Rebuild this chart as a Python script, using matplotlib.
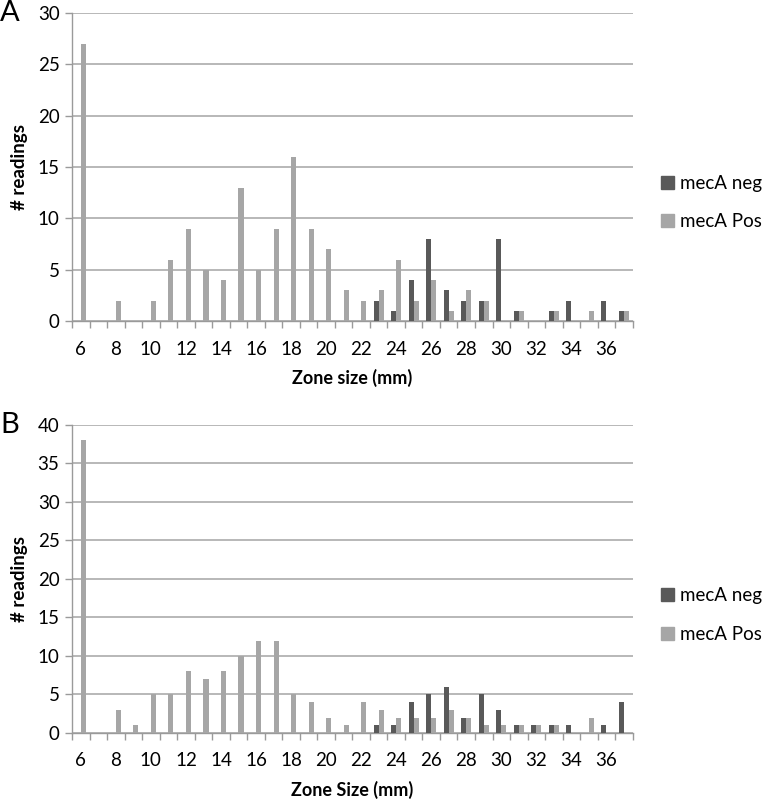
import numpy as np
import matplotlib.pyplot as plt
from matplotlib.patches import Patch

plt.rcParams['font.family'] = ['Lato', 'DejaVu Sans']

zones = list(range(6, 38))
tick_labels = [str(z) for z in range(6, 37, 2)]

# panel A
a_neg = [0, 0, 0, 0, 0, 0, 0, 0, 0, 0, 0, 0, 0, 0, 0, 0, 0,
         2, 1, 4, 8, 3, 2, 2, 8, 1, 0, 1, 2, 0, 2, 1]
a_pos = [27, 0, 2, 0, 2, 6, 9, 5, 4, 13, 5, 9, 16, 9, 7, 3, 2,
         3, 6, 2, 4, 1, 3, 2, 0, 1, 0, 1, 0, 1, 0, 1]

# panel B
b_neg = [0, 0, 0, 0, 0, 0, 0, 0, 0, 0, 0, 0, 0, 0, 0, 0, 0,
         1, 1, 4, 5, 6, 2, 5, 3, 1, 1, 1, 1, 0, 1, 4]
b_pos = [38, 0, 3, 1, 5, 5, 8, 7, 8, 10, 12, 12, 5, 4, 2, 1, 4,
         3, 2, 2, 2, 3, 2, 1, 1, 1, 1, 1, 0, 2, 0, 0]

dark = '#595959'
light = '#a6a6a6'
axis_col = '#9a9a9a'

fig = plt.figure(figsize=(7.66, 8.01), dpi=100)

def panel(rect, neg, pos, ymax, xlabel, letter, leg_y):
    ax = fig.add_axes(rect)
    x = np.array(zones)
    w = 0.29
    ax.bar(x - w / 2, neg, width=w, color=dark, zorder=3)
    ax.bar(x + w / 2, pos, width=w, color=light, zorder=3)
    ax.set_xlim(5.5, 37.5)
    ax.set_ylim(0, ymax)
    ax.set_yticks(range(0, ymax + 1, 5))
    ax.set_xticks(range(6, 37, 2))
    ax.set_xticklabels(tick_labels)
    ax.set_xticks(np.arange(5.5, 38, 1), minor=True)
    ax.tick_params(axis='x', which='major', length=0, labelsize=13.5, pad=14)
    ax.tick_params(axis='x', which='minor', length=5, color=axis_col, width=1)
    ax.tick_params(axis='y', length=5, color=axis_col, width=1, labelsize=13.5, pad=4)
    ax.grid(axis='y', color='#ababab', linewidth=1.2, zorder=0)
    for s in ['top', 'right']:
        ax.spines[s].set_visible(False)
    for s in ['left', 'bottom']:
        ax.spines[s].set_color(axis_col)
        ax.spines[s].set_linewidth(1)
    ax.set_xlabel(xlabel, fontsize=13, fontweight='bold')
    ax.xaxis.set_label_coords(0.5, -0.155)
    ax.set_ylabel('# readings', fontsize=13.5, fontweight='bold')
    ax.yaxis.set_label_coords(-0.078, 0.5)
    ax.text(-0.128, 1.0, letter, transform=ax.transAxes, fontsize=21,
            ha='left', va='center')
    handles = [Patch(color=dark), Patch(color=light)]
    fig.legend(handles, ['mecA neg', 'mecA Pos'], loc='center left',
               bbox_to_anchor=(0.863, leg_y), frameon=False, fontsize=13.5,
               handlelength=0.7, handleheight=0.7, handletextpad=0.3,
               labelspacing=1.15, borderpad=0, borderaxespad=0)
    return ax

panel([0.094, 0.599, 0.732, 0.385], a_neg, a_pos, 30, 'Zone size (mm)', 'A', 0.747)
panel([0.094, 0.085, 0.732, 0.3845], b_neg, b_pos, 40, 'Zone Size (mm)', 'B', 0.232)

fig.savefig('out.png', dpi=100)
